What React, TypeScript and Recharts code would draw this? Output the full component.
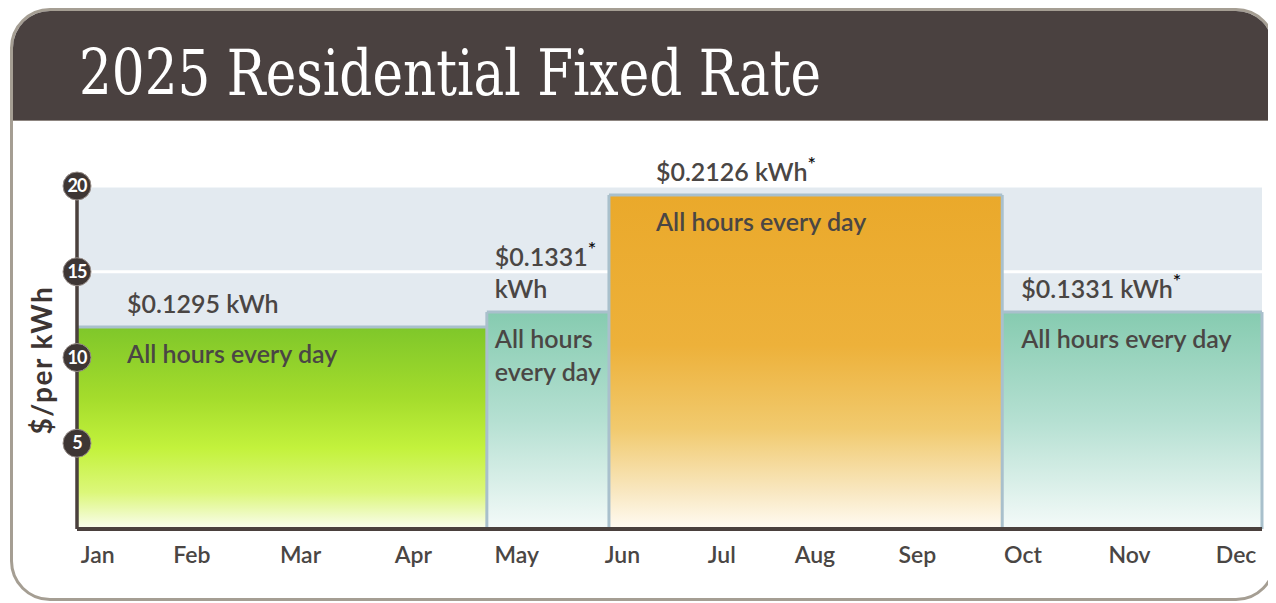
import {
  Area,
  CartesianGrid,
  ComposedChart,
  LabelList,
  ReferenceLine,
  XAxis,
  YAxis,
} from "recharts";

const months = ["Jan", "Feb", "Mar", "Apr", "May", "Jun", "Jul", "Aug", "Sep", "Oct", "Nov", "Dec"];
// month label positions along the axis (Jan = 0, Dec = 11), as spaced in the source
const monthTicks = [0, 0.91, 1.96, 3.05, 4.05, 5.07, 6.03, 6.93, 7.92, 8.94, 9.97, 11];
const yTicks = [5, 10, 15, 20];

// period edges in month units
const periodBounds = [-0.2, 3.76, 4.94, 8.74, 11.25];
const periodRates = [11.78, 12.65, 19.48, 12.65];
const rateLines = [["$0.1295 kWh"], ["$0.1331", "kWh"], ["$0.2126 kWh"], ["$0.1331 kWh"]];
const rateStarred = [false, true, true, true];
const noteLines = [["All hours every day"], ["All hours", "every day"], ["All hours every day"], ["All hours every day"]];

const periodKeys = periodRates.map((_, i) => `p${i}`);
const labelDx = [50, 8, 47, 19];

const table = periodBounds.map((x, j) => {
  const row: Record<string, number> = { x };
  if (j < periodRates.length) row[periodKeys[j]] = periodRates[j];
  if (j > 0) row[periodKeys[j - 1]] = periodRates[j - 1];
  return row;
});

const DARK = "#4a403d";
const TEXT = "#4a4644";
const EDGE = "#a9c0cc";
const FONT = "Lato, 'Noto Sans', sans-serif";

function YTick(props: any) {
  const { x, y, payload } = props;
  return (
    <g>
      <circle cx={x} cy={y} r={14} fill="#3e3634" stroke="#9a908b" strokeWidth={1} />
      <text
        x={x}
        y={y + 6}
        textAnchor="middle"
        fill="#fff"
        style={{ fontSize: 18, fontWeight: 700, fontFamily: FONT, letterSpacing: -1 }}
      >
        {payload.value}
      </text>
    </g>
  );
}

function periodLabel(i: number) {
  return (props: any) => {
    if (props.index !== i) return null;
    const vb = props.viewBox || {};
    const x = (props.x ?? vb.x) + labelDx[i];
    const top = props.y ?? vb.y;
    const rl = rateLines[i];
    return (
      <g fontFamily={FONT} fontSize={25} fontWeight={600} fill={TEXT}>
        {rl.map((line, k) => (
          <text key={`r${k}`} x={x} y={top - 14 - (rl.length - 1 - k) * 32}>
            {line}
            {k === 0 && rateStarred[i] ? (
              <tspan dy={-10} fontSize={20} fill="#111">*</tspan>
            ) : null}
          </text>
        ))}
        {noteLines[i].map((line, k) => (
          <text key={`n${k}`} x={x} y={top + 36 + k * 33}>
            {line}
          </text>
        ))}
      </g>
    );
  };
}

const fills = ["url(#gGreen)", "url(#gTeal)", "url(#gOrange)", "url(#gTeal)"];

export default function App() {
  return (
    <div style={{ position: "relative", width: 1268, height: 595, overflow: "hidden" }}>
      <div
        style={{
          position: "absolute",
          left: 2,
          top: 0,
          width: 1266,
          height: 593,
          border: "3px solid #a59e93",
          borderRadius: 40,
          boxSizing: "border-box",
          overflow: "hidden",
          background: "#fff",
        }}
      >
        <div style={{ height: 109, background: "#4a4140", borderBottom: "1px solid #8d8580" }} />
      </div>
      <svg style={{ position: "absolute", left: 0, top: 0 }} width={1268} height={130}>
        <text
          x={71}
          y={87}
          fill="#fff"
          fontFamily="'DejaVu Serif', serif"
          fontSize={64}
          textLength={742}
          lengthAdjust="spacingAndGlyphs"
        >
          2025 Residential Fixed Rate
        </text>
      </svg>
      <div style={{ position: "absolute", left: 0, top: 0 }}>
        <ComposedChart width={1268} height={595} data={table} margin={{ top: 178, right: 14, bottom: 34, left: 39 }}>
          <defs>
            <linearGradient id="gGreen" x1="0" y1="0" x2="0" y2="1">
              <stop offset="0" stopColor="#7fc72a" />
              <stop offset="0.35" stopColor="#a4dc2c" />
              <stop offset="0.6" stopColor="#c3f23c" />
              <stop offset="0.82" stopColor="#dcf77a" />
              <stop offset="1" stopColor="#fafdf0" />
            </linearGradient>
            <linearGradient id="gTeal" x1="0" y1="0" x2="0" y2="1">
              <stop offset="0" stopColor="#86cbb0" />
              <stop offset="0.5" stopColor="#b5e0d2" />
              <stop offset="1" stopColor="#f4faf9" />
            </linearGradient>
            <linearGradient id="gOrange" x1="0" y1="0" x2="0" y2="1">
              <stop offset="0" stopColor="#eaa92b" />
              <stop offset="0.45" stopColor="#edb13a" />
              <stop offset="0.7" stopColor="#f1ca6e" />
              <stop offset="0.88" stopColor="#f8e6bd" />
              <stop offset="1" stopColor="#fffbf3" />
            </linearGradient>
          </defs>
          <CartesianGrid fill="#e3eaf0" vertical={false} stroke="#ffffff" strokeWidth={3} />
          <XAxis
            type="number"
            dataKey="x"
            domain={[periodBounds[0], periodBounds[periodBounds.length - 1]]}
            ticks={monthTicks}
            tickFormatter={(_v, i) => months[i]}
            interval={0}
            allowDataOverflow
            height={40}
            tickLine={false}
            tickSize={0}
            tickMargin={18}
            axisLine={{ stroke: DARK, strokeWidth: 4 }}
            tick={{ fill: TEXT, fontSize: 23, fontFamily: FONT, fontWeight: 600 }}
          />
          <YAxis
            type="number"
            domain={[0, 20]}
            ticks={yTicks}
            interval={0}
            width={30}
            tickLine={false}
            tickSize={0}
            tickMargin={0}
            axisLine={{ stroke: DARK, strokeWidth: 3 }}
            tick={(p: any) => <YTick {...p} />}
          />
          {periodKeys.map((key, i) => (
            <Area
              key={key}
              type="linear"
              dataKey={key}
              fill={fills[i]}
              fillOpacity={1}
              stroke={EDGE}
              strokeWidth={3}
              isAnimationActive={false}
            >
              <LabelList dataKey={key} content={periodLabel(i)} />
            </Area>
          ))}
          {periodBounds.slice(1).map((x, j) => (
            <ReferenceLine
              key={`div${j}`}
              segment={[
                { x, y: 0 },
                { x, y: Math.max(periodRates[j], periodRates[j + 1] ?? 0) },
              ]}
              stroke={EDGE}
              strokeWidth={3}
            />
          ))}
          <ReferenceLine x={periodBounds[0]} stroke={DARK} strokeWidth={3} />
        </ComposedChart>
      </div>
      <svg style={{ position: "absolute", left: 0, top: 0, pointerEvents: "none" }} width={80} height={595}>
        <text
          transform="translate(44 352) rotate(-90)"
          textAnchor="middle"
          fill="#3d3533"
          fontFamily={FONT}
          fontSize={28}
          fontWeight={700}
          letterSpacing={1.5}
        >
          $/per kWh
        </text>
      </svg>
    </div>
  );
}
